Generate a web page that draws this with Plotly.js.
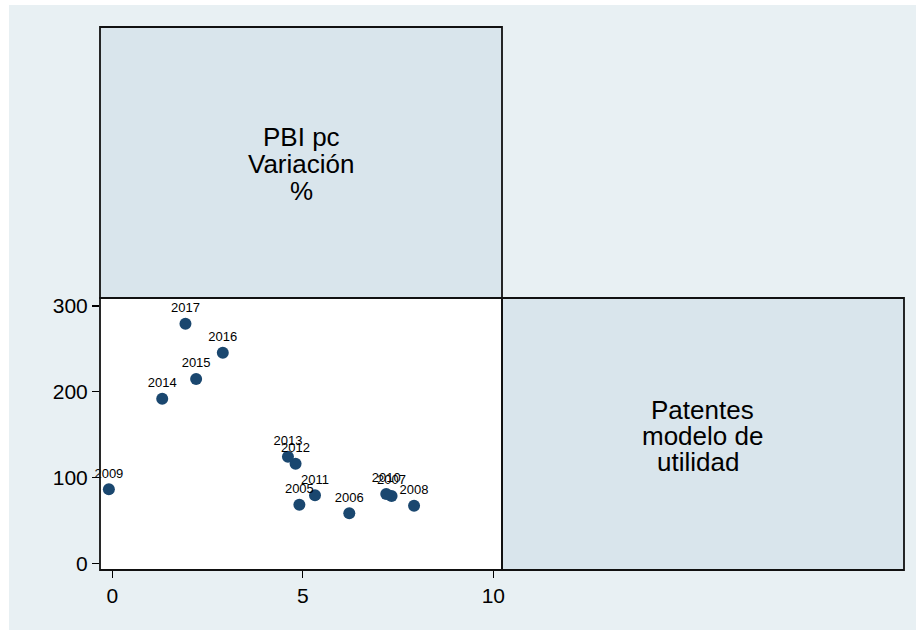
<!DOCTYPE html>
<html>
<head>
<meta charset="utf-8">
<script src="https://cdn.plot.ly/plotly-3.0.1.min.js"></script>
<style>html,body{margin:0;padding:0;background:#fff}</style>
</head>
<body>
<div id="chart" style="width:916px;height:630px"></div>
<script>
// Data (x: Patentes modelo de utilidad, y: PBI pc Variación %)
const years = ['2005','2006','2007','2008','2009','2010','2011','2012','2013','2014','2015','2016','2017'];
const patentes = [4.91, 6.22, 7.33, 7.92, -0.09, 7.19, 5.32, 4.81, 4.61, 1.31, 2.20, 2.90, 1.92];
const pbiVar = [68.3, 58.3, 78.5, 67.2, 86.3, 80.8, 79.3, 116.1, 124.3, 191.9, 214.9, 245.5, 279.4];
const xTicks = [0, 5, 10];
const yTicks = [0, 100, 200, 300];
const panelTop = ['PBI pc', 'Variación', '%'];
const panelRight = ['Patentes', 'modelo de', 'utilidad'];

const W = 916, H = 630;
const L = 100, R = 502, T = 298, B = 570;
const px = x => (x - L) / (R - L);
const py = y => (B - y) / (B - T);

const panelFill = '#d9e5ec';
const outerFill = '#e8f0f3';
const lineCol = '#111111';

const shapes = [
  // outer light background
  {type:'rect', xref:'paper', yref:'paper', x0:px(9), x1:px(916), y0:py(630), y1:py(5),
   fillcolor:outerFill, line:{width:0}, layer:'below'},
  // scatter panel white background
  {type:'rect', xref:'paper', yref:'paper', x0:0, x1:1, y0:0, y1:1,
   fillcolor:'#ffffff', line:{width:0}, layer:'below'},
  // top-left label panel
  {type:'rect', xref:'paper', yref:'paper', x0:px(100), x1:px(502), y0:py(298), y1:py(27),
   fillcolor:panelFill, line:{color:lineCol, width:1.8}, layer:'below'},
  // right label panel
  {type:'rect', xref:'paper', yref:'paper', x0:px(502), x1:px(904), y0:py(570), y1:py(298),
   fillcolor:panelFill, line:{color:lineCol, width:1.8}, layer:'below'},
  // scatter panel frame
  {type:'rect', xref:'paper', yref:'paper', x0:0, x1:1, y0:0, y1:1,
   line:{color:lineCol, width:1.8}, layer:'above'}
];

const annFont = {family:'Liberation Sans, Arial, sans-serif', size:26, color:'#000'};
const annotations = [];
const topY = [137, 164, 191];
panelTop.forEach((t, i) => annotations.push({
  xref:'paper', yref:'paper', x:px(301), y:py(topY[i]), text:t, showarrow:false,
  xanchor:'center', yanchor:'middle', font:annFont
}));
const rightY = [410, 436, 462];
const rightX = [702, 702, 698];
panelRight.forEach((t, i) => annotations.push({
  xref:'paper', yref:'paper', x:px(rightX[i]), y:py(rightY[i]), text:t, showarrow:false,
  xanchor:'center', yanchor:'middle', font:annFont
}));

const trace = {
  type:'scatter', mode:'markers+text',
  x: patentes, y: pbiVar, text: years,
  textposition:'top center',
  textfont:{family:'Liberation Sans, Arial, sans-serif', size:13, color:'#000'},
  marker:{size:12, color:'#1a476f', line:{width:0}},
  cliponaxis:false, hoverinfo:'skip'
};

const tickFont = {family:'Liberation Sans, Arial, sans-serif', size:21, color:'#000'};
const layout = {
  width:W, height:H,
  margin:{l:L, r:W-R, t:T, b:H-B, pad:0},
  paper_bgcolor:'#ffffff', plot_bgcolor:'#ffffff',
  showlegend:false,
  xaxis:{range:[-0.323, 10.228], tickmode:'array', tickvals:xTicks, ticktext:xTicks.map(String),
    ticks:'outside', ticklen:7, tickwidth:1.2, tickcolor:'#000', showgrid:false, zeroline:false,
    showline:false, tickfont:tickFont, fixedrange:true},
  yaxis:{range:[-7.8, 309.3], tickmode:'array', tickvals:yTicks, ticktext:yTicks.map(String),
    ticks:'outside', ticklen:7, tickwidth:1.2, tickcolor:'#000', showgrid:false, zeroline:false,
    showline:false, tickfont:tickFont, fixedrange:true},
  shapes: shapes,
  annotations: annotations
};

Plotly.newPlot('chart', [trace], layout, {displayModeBar:false, staticPlot:true});
</script>
</body>
</html>
